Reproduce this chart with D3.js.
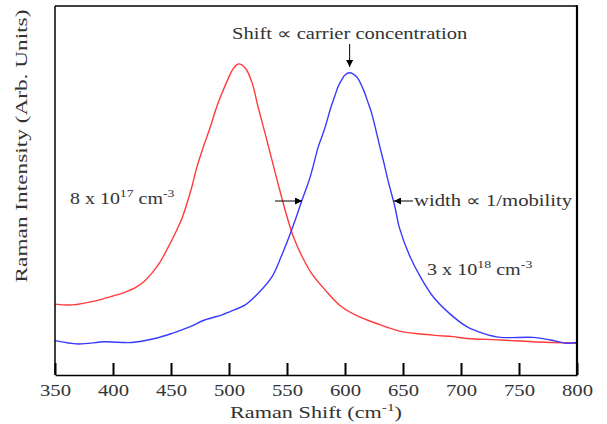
<!DOCTYPE html>
<html>
<head>
<meta charset="utf-8">
<script src="https://cdn.jsdelivr.net/npm/d3@7/dist/d3.min.js"></script>
<style>
  html, body { margin: 0; padding: 0; background: #fff; }
  svg { display: block; }
  text { font-family: "Liberation Serif", "Times New Roman", serif; fill: #333; }
</style>
</head>
<body>
<svg id="chart" width="607" height="424"></svg>
<script>
// ---- Data (intensity in arbitrary units) ----
const redShift = [350,365,385,400,410,420,427,433,440,445,450,455,460,468,472,477,481,485,489,494,500,503,508,514,520,525,531,537,543,550,555,563,571,583,597,612,626,647,676,693,705,734,762,800];
const redIntensity = [192,190,201,214,224,238,254,274,303,331,361,393,429,510,560,610,646,683,723,764,808,827,843,832,791,727,656,583,510,429,379,321,276,230,185,158,141,119,108,104,99,95,90,86];

const blueShift = [350,370,393,416,436,451,465,479,494,501,514,525,537,545,554,563,570,577,580,583,588,591,594,597,600,604,610,616,620,623,627,630,634,637,643,647,656,665,676,690,705,719,734,762,777,791,800];
const blueIntensity = [93,84,90,88,99,113,129,149,163,172,190,221,266,321,393,474,537,619,645,673,727,754,781,799,813,819,808,772,737,709,659,619,569,528,456,398,321,266,212,167,131,113,102,102,95,86,88];

const xTicks = [350,400,450,500,550,600,650,700,750,800];
const xDomain = [350, 800];
const yDomain = [0, 1000];

const labelLowDoping = { base: "8 x 10", exp: "17", unit: " cm", unitExp: "-3" };
const labelHighDoping = { base: "3 x 10", exp: "18", unit: " cm", unitExp: "-3" };
const titleText = "Shift \u221D carrier concentration";
const widthText = "width \u221D 1/mobility";

// ---- Layout ----
const svg = d3.select("#chart");
const L = 55, R = 577, T = 6, B = 375;

const x = d3.scaleLinear().domain(xDomain).range([L, R]);
const y = d3.scaleLinear().domain(yDomain).range([B, T]);

function fit(g, target) {
  const bb = g.node().getBBox();
  return target / bb.width;
}

// ---- Curves ----
const line = d3.line().curve(d3.curveCatmullRom.alpha(0.5));
svg.append("path")
  .attr("d", line(redShift.map((s, i) => [x(s), y(redIntensity[i])])))
  .attr("fill", "none").attr("stroke", "#ff3b3b").attr("stroke-width", 1.4);
svg.append("path")
  .attr("d", line(blueShift.map((s, i) => [x(s), y(blueIntensity[i])])))
  .attr("fill", "none").attr("stroke", "#3a3aff").attr("stroke-width", 1.4);

// ---- Frame ----
const frame = svg.append("g").attr("stroke", "#000").attr("fill", "none");
frame.append("line").attr("x1", L).attr("x2", R).attr("y1", T).attr("y2", T).attr("stroke-width", 1.5);
frame.append("line").attr("x1", L).attr("x2", L).attr("y1", T).attr("y2", B).attr("stroke-width", 1.5);
frame.append("line").attr("x1", R).attr("x2", R).attr("y1", T - 0.75).attr("y2", B).attr("stroke-width", 2.2);

// ---- X axis (ticks inward) ----
const xAxis = d3.axisBottom(x).tickValues(xTicks).tickSizeInner(-12).tickSizeOuter(0).tickPadding(20);
const gx = svg.append("g").attr("transform", `translate(0,${B})`).call(xAxis);
gx.select(".domain").attr("stroke", "#000").attr("stroke-width", 1.5);
gx.selectAll(".tick line").attr("stroke", "#000").attr("stroke-width", 2);
gx.selectAll(".tick text")
  .attr("font-family", "Liberation Serif").attr("font-size", 16)
  .attr("fill", "#444").attr("dy", null).attr("y", 21)
  .attr("textLength", 31).attr("lengthAdjust", "spacingAndGlyphs");

// ---- Axis titles ----
const xt = svg.append("g").attr("transform", `translate(316,418)`);
const xtText = xt.append("text").attr("text-anchor", "middle").attr("font-size", 16).attr("fill", "#444");
xtText.append("tspan").text("Raman Shift (cm");
xtText.append("tspan").attr("font-size", 11).attr("dy", -7).text("-1");
xtText.append("tspan").attr("dy", 7).text(")");
xtText.attr("transform", `scale(${fit(xtText, 172)},1)`);

const yt = svg.append("g").attr("transform", `translate(27,146) rotate(-90)`);
const ytText = yt.append("text").attr("text-anchor", "middle").attr("font-size", 16).attr("fill", "#444")
  .text("Raman Intensity (Arb. Units)");
ytText.attr("transform", `scale(${fit(ytText, 273)},1)`);

// ---- Annotations ----
const tt = svg.append("g").attr("transform", `translate(232,39)`);
const ttText = tt.append("text").attr("font-size", 16).attr("fill", "#333").text(titleText);
ttText.attr("transform", `scale(${fit(ttText, 235)},1)`);

function supLabel(px, py, lab, width) {
  const g = svg.append("g").attr("transform", `translate(${px},${py})`);
  const t = g.append("text").attr("font-size", 16).attr("fill", "#444");
  t.append("tspan").text(lab.base);
  t.append("tspan").attr("font-size", 11).attr("dy", -7).text(lab.exp);
  t.append("tspan").attr("dy", 7).text(lab.unit);
  t.append("tspan").attr("font-size", 11).attr("dy", -7).text(lab.unitExp);
  t.attr("transform", `scale(${fit(t, width)},1)`);
}
supLabel(70, 204, labelLowDoping, 105);
supLabel(427, 275, labelHighDoping, 106);

const wt = svg.append("g").attr("transform", `translate(414,206)`);
const wtText = wt.append("text").attr("font-size", 16).attr("fill", "#333").text(widthText);
wtText.attr("transform", `scale(${fit(wtText, 158)},1)`);

// arrows
const defs = svg.append("defs");
defs.append("marker").attr("id", "ah").attr("viewBox", "0 0 10 10")
  .attr("refX", 10).attr("refY", 5).attr("markerWidth", 10).attr("markerHeight", 7)
  .attr("markerUnits", "userSpaceOnUse").attr("orient", "auto")
  .append("path").attr("d", "M0,0 L10,5 L0,10 Z").attr("fill", "#000");

function arrow(x1, y1, x2, y2) {
  svg.append("line").attr("x1", x1).attr("y1", y1).attr("x2", x2).attr("y2", y2)
    .attr("stroke", "#000").attr("stroke-width", 1).attr("marker-end", "url(#ah)");
}
arrow(x(604), 44, x(604), 67);
arrow(275, 201, 302, 201);
arrow(413, 201, 394, 201);
</script>
</body>
</html>
